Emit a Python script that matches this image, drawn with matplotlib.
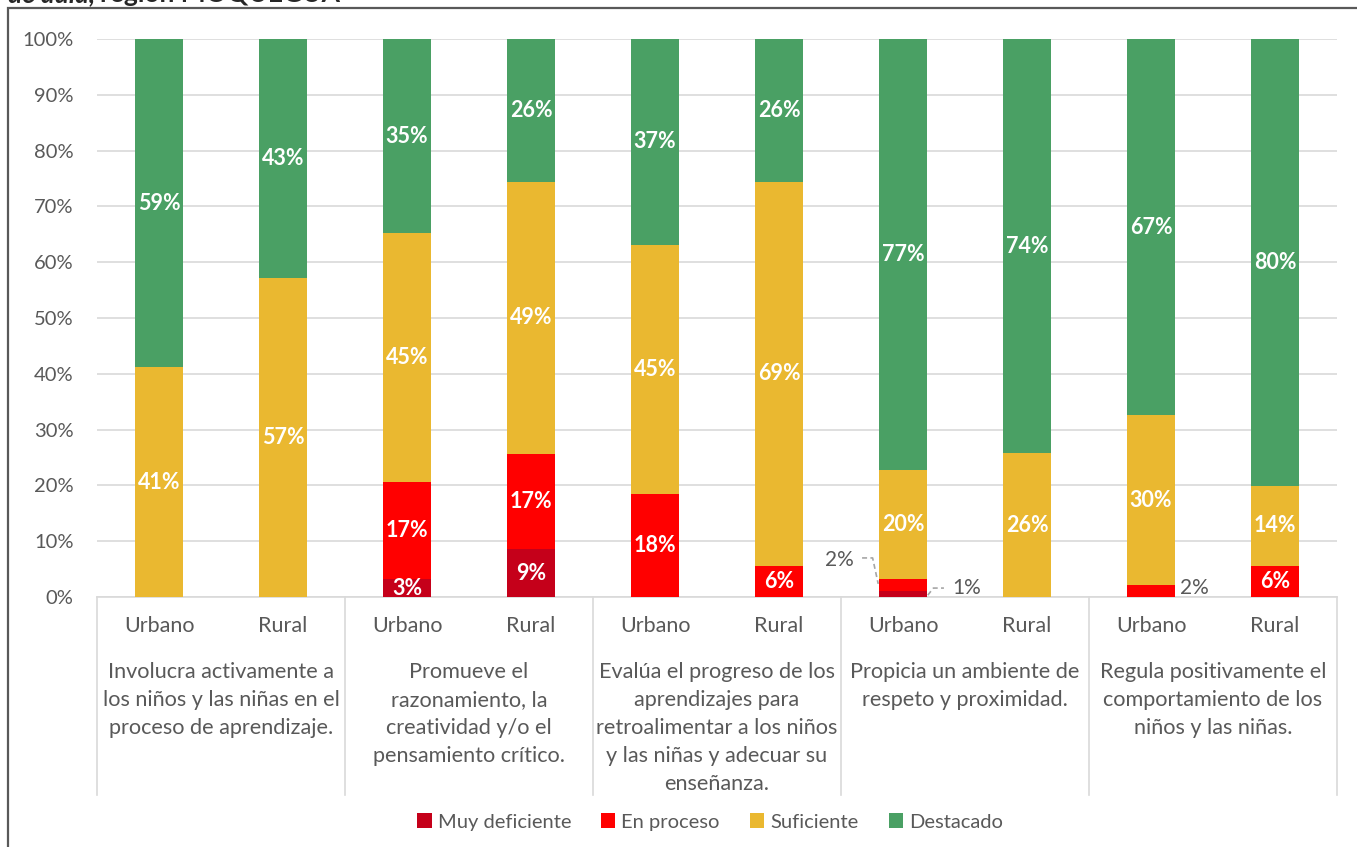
import matplotlib
matplotlib.use("Agg")
import matplotlib.pyplot as plt
import numpy as np
from matplotlib.patches import Rectangle
from matplotlib.lines import Line2D
import matplotlib.transforms as mtrans

plt.rcParams['font.family'] = ['Lato', 'DejaVu Sans']

groups = ["Involucra activamente a\nlos niños y las niñas en el\nproceso de aprendizaje.",
          "Promueve el\nrazonamiento, la\ncreatividad y/o el\npensamiento crítico.",
          "Evalúa el progreso de los\naprendizajes para\nretroalimentar a los niños\ny las niñas y adecuar su\nenseñanza.",
          "Propicia un ambiente de\nrespeto y proximidad.",
          "Regula positivamente el\ncomportamiento de los\nniños y las niñas."]
areas = ["Urbano", "Rural"]
series = ["Muy deficiente", "En proceso", "Suficiente", "Destacado"]
colors = ["#C5001A", "#FF0000", "#EAB830", "#4AA064"]

muy_deficiente = [0, 0, 3.2, 8.6, 0, 0, 1.1, 0, 0, 0]
en_proceso     = [0, 0, 17.4, 17.0, 18.5, 5.6, 2.1, 0, 2.1, 5.6]
suficiente     = [41.2, 57.2, 44.6, 48.8, 44.6, 68.8, 19.6, 25.8, 30.5, 14.3]
destacado      = [58.8, 42.8, 34.8, 25.6, 36.9, 25.6, 77.2, 74.2, 67.4, 80.1]

labels_md = ["", "", "3%", "9%", "", "", "1%", "", "", ""]
labels_ep = ["", "", "17%", "17%", "18%", "6%", "2%", "", "2%", "6%"]
labels_su = ["41%", "57%", "45%", "49%", "45%", "69%", "20%", "26%", "30%", "14%"]
labels_de = ["59%", "43%", "35%", "26%", "37%", "26%", "77%", "74%", "67%", "80%"]

data = [muy_deficiente, en_proceso, suficiente, destacado]
labs = [labels_md, labels_ep, labels_su, labels_de]

W, H = 1357, 847
fig = plt.figure(figsize=(W/100, H/100), dpi=100)
ax = fig.add_axes([97/W, 1-597/H, (1337-97)/W, (597-39)/H])

n = len(muy_deficiente)
x = np.arange(n)
bw = 0.39
bottom = np.zeros(n)
outside = {(6, 0), (6, 1), (8, 1)}
for si, (vals, col, lb) in enumerate(zip(data, colors, labs)):
    vals = np.array(vals, dtype=float)
    ax.bar(x, vals, bw, bottom=bottom, color=col, label=series[si], zorder=3)
    for i in range(n):
        if lb[i] and (i, si) not in outside:
            ax.text(x[i], bottom[i] + vals[i]/2, lb[i], ha='center', va='center',
                    color='white', fontweight='bold', fontsize=15.5, zorder=5)
    bottom += vals

gray = '#595959'
dash = dict(color='#A6A6A6', lw=1.2, ls=(0, (3, 2)), clip_on=False, zorder=4)
# outside labels with leader lines (Urbano, Propicia)
ep_y = 6.6
ax.text(6 - 0.40, ep_y, labels_ep[6], ha='right', va='center', color=gray, fontsize=15)
ax.plot([6 - 0.33, 6 - 0.245, 6 - bw/2 - 0.005],
        [ep_y + 0.4, ep_y + 0.4, muy_deficiente[6] + en_proceso[6]*0.6], **dash)
md_y = 1.6
ax.text(6 + 0.40, md_y, labels_md[6], ha='left', va='center', color=gray, fontsize=15)
ax.plot([6 + bw/2 + 0.005, 6 + 0.245, 6 + 0.33], [muy_deficiente[6]*0.3, md_y, md_y], **dash)
ax.text(8 + bw/2 + 0.04, 1.6, labels_ep[8], ha='left', va='center', color=gray, fontsize=15)

ax.set_xlim(-0.5, n - 0.5)
ax.set_ylim(0, 100)
ax.set_yticks(np.arange(0, 101, 10))
ax.set_yticklabels([f"{v}%" for v in range(0, 101, 10)], color=gray, fontsize=14.5)
ax.yaxis.grid(True, color='#D9D9D9', lw=1.2, zorder=0)
ax.set_axisbelow(True)
for s in ['top', 'right', 'left']:
    ax.spines[s].set_visible(False)
ax.spines['bottom'].set_color('#D9D9D9')
ax.spines['bottom'].set_linewidth(1.2)
ax.tick_params(axis='y', length=0, pad=17)
ax.tick_params(axis='x', length=0, pad=14)
ax.set_xticks(x)
ax.set_xticklabels([areas[i % 2] for i in range(n)], color=gray, fontsize=15.5)

trans = mtrans.blended_transform_factory(ax.transData, ax.transAxes)
sep_bottom = -(795-597)/(597-39)
for k in range(len(groups) + 1):
    xx = -0.5 + 2*k
    ax.add_line(Line2D([xx, xx], [0, sep_bottom], transform=trans, color='#D9D9D9', lw=1.2, clip_on=False))
for k, g in enumerate(groups):
    ax.text(2*k + 0.5, -(662-597)/(597-39), g, transform=trans, ha='center', va='top',
            color=gray, fontsize=15.6, linespacing=1.5)

leg = fig.legend(loc='center', bbox_to_anchor=(710/W, 1-822/H), ncol=4, frameon=False,
                 handlelength=0.7, handleheight=0.7, handletextpad=0.3, columnspacing=1.5,
                 fontsize=14.5)
for t in leg.get_texts():
    t.set_color(gray)

# outer frame
fig.patches.append(Rectangle((8/W, -0.05), 1.1, 1 - 8/H + 0.05, transform=fig.transFigure,
                             fill=False, edgecolor='#595959', lw=1.6))
# clipped title fragment
fig.text(8/W, 1 + 6/H, "de aula,", fontsize=19, fontweight='bold', fontstyle='italic',
         color='#262626', ha='left', va='center')
fig.text(100/W, 1 + 6/H, "región MOQUEGUA", fontsize=19, fontweight='bold',
         color='#262626', ha='left', va='center')

fig.savefig("out.png", dpi=100)
